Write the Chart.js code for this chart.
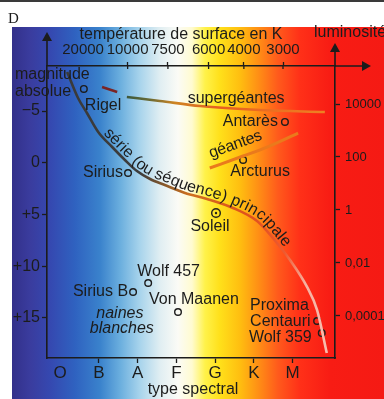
<!DOCTYPE html>
<html>
<head>
<meta charset="utf-8">
<script src="https://cdn.jsdelivr.net/npm/chart.js@4.4.1/dist/chart.umd.min.js"></script>
<style>
  html, body { margin: 0; padding: 0; background: #fff; }
  canvas { display: block; }
</style>
</head>
<body>
<canvas id="hr" width="384" height="399"></canvas>
<script>
// x = spectral class (O=0, B=1 ... M=6), y = absolute magnitude
var spectralTypes = ['O', 'B', 'A', 'F', 'G', 'K', 'M'];
var magTicks = [-5, 0, 5, 10, 15];
var lumTicks = [10000, 100, 1, 0.01, 0.0001];
var lumLabels = ['10000', '100', '1', '0,01', '0,0001'];
var tempLabels = ['20000', '10000', '7500', '6000', '4000', '3000'];
var tempAt = [0.59, 1.74, 2.78, 3.83, 4.74, 5.75];

var mainSeqX = [0.18, 0.46, 0.69, 0.98, 1.34, 1.67, 1.98, 2.32, 2.70, 3.22, 3.79, 4.46, 5.08, 5.49, 5.93, 6.37, 6.63, 6.88];
var mainSeqMag = [-8.77, -6.26, -4.81, -2.97, -1.52, -0.27, 0.80, 1.57, 2.15, 2.92, 3.50, 4.37, 5.63, 7.27, 9.40, 12.0, 14.23, 18.38];

var superDashX = [1.08, 1.47];
var superDashMag = [-7.32, -6.84];
var superX = [1.72, 2.57, 3.61, 5.16, 6.83];
var superMag = [-6.35, -5.97, -5.48, -5.10, -4.90];

var giantX = [3.86, 4.72, 5.34, 6.14];
var giantMag = [0.51, -0.65, -1.52, -2.87];

var starNames = ['Rigel', 'Antarès', 'Arcturus', 'Sirius', 'Soleil', 'Sirius B', 'Wolf 457', 'Von Maanen', 'Proxima\nCentauri', 'Wolf 359'];
var starX = [0.61, 5.80, 4.72, 1.75, 4.02, 1.88, 2.27, 3.04, 6.63, 6.75];
var starMag = [-7.13, -3.94, -0.27, 0.99, 4.86, 12.49, 11.62, 14.42, 15.29, 16.45];

// label placement, pixels from the star: dx, dy, align
var starLabelPos = [
  [1, 17, 'left'], [-7, 0, 'right'], [17, 12, 'center'], [-5, 0, 'right'], [-6, 14, 'center'],
  [-5, 0, 'right'], [-11, -11, 'left'], [-29, -12, 'left'], [-67, -15, 'left'], [-10, 5, 'right']
];

var FONT = '"Liberation Sans", Arial, sans-serif';
var INK = '#1c1c1c';

function pts(xs, ys) {
  return xs.map(function (x, i) { return {x: x, y: ys[i]}; });
}

var gradCache = {};
function hGrad(chart, key, stops) {
  if (!gradCache[key]) {
    var g = chart.ctx.createLinearGradient(0, 0, 384, 0);
    stops.forEach(function (s) { g.addColorStop(s[0] / 384, s[1]); });
    gradCache[key] = g;
  }
  return gradCache[key];
}
var msStops = [[0, '#383838'], [140, '#3c3c3c'], [165, '#8a5a2a'], [190, '#d0701e'], [250, '#e0501c'], [285, '#ee5a30'], [305, '#f6b0a0'], [384, '#fbe0d6']];
var superStops = [[0, '#7a2424'], [120, '#7a2424'], [128, '#3e5a3c'], [150, '#6a6a34'], [175, '#cf8422'], [220, '#e85e20'], [384, '#f29424']];

var sunIcon = document.createElement('canvas');
sunIcon.width = 12; sunIcon.height = 12;
(function () {
  var c = sunIcon.getContext('2d');
  c.strokeStyle = INK; c.lineWidth = 1.4;
  c.beginPath(); c.arc(6, 6, 4.3, 0, 2 * Math.PI); c.stroke();
  c.fillStyle = INK;
  c.beginPath(); c.arc(6, 6, 1.2, 0, 2 * Math.PI); c.fill();
})();

// ---- helpers for text following a curve
function sampledPath(meta) {
  var p = meta.data, out = [];
  for (var i = 0; i < p.length - 1; i++) {
    var a = p[i], b = p[i + 1];
    var c1x = a.cp2x !== undefined ? a.cp2x : a.x, c1y = a.cp2y !== undefined ? a.cp2y : a.y;
    var c2x = b.cp1x !== undefined ? b.cp1x : b.x, c2y = b.cp1y !== undefined ? b.cp1y : b.y;
    for (var k = 0; k < 24; k++) {
      var t = k / 24, m = 1 - t;
      out.push({
        x: m * m * m * a.x + 3 * m * m * t * c1x + 3 * m * t * t * c2x + t * t * t * b.x,
        y: m * m * m * a.y + 3 * m * m * t * c1y + 3 * m * t * t * c2y + t * t * t * b.y
      });
    }
  }
  var l = p[p.length - 1];
  out.push({x: l.x, y: l.y});
  out[0].s = 0;
  for (var j = 1; j < out.length; j++) {
    out[j].s = out[j - 1].s + Math.hypot(out[j].x - out[j - 1].x, out[j].y - out[j - 1].y);
  }
  return out;
}
function pos(path, s) {
  for (var i = 1; i < path.length; i++) {
    if (path[i].s >= s || i === path.length - 1) {
      var a = path[i - 1], b = path[i], f = (s - a.s) / ((b.s - a.s) || 1);
      return {x: a.x + (b.x - a.x) * f, y: a.y + (b.y - a.y) * f};
    }
  }
}
function arcAtX(path, px) {
  for (var i = 0; i < path.length; i++) if (path[i].x >= px) return path[i].s;
  return path[path.length - 1].s;
}
function textOnPath(ctx, path, text, s0, s1, off) {
  var chars = Array.from(text);
  var w = chars.map(function (ch) { return ctx.measureText(ch).width; });
  var total = w.reduce(function (a, b) { return a + b; }, 0);
  var gap = (s1 - s0 - total) / (chars.length - 1);
  var s = s0;
  ctx.textAlign = 'center';
  ctx.textBaseline = 'alphabetic';
  chars.forEach(function (ch, i) {
    var mid = s + w[i] / 2;
    var p = pos(path, mid), p1 = pos(path, mid - 4), p2 = pos(path, mid + 4);
    var ang = Math.atan2(p2.y - p1.y, p2.x - p1.x);
    ctx.save();
    ctx.translate(p.x + Math.sin(ang) * off, p.y - Math.cos(ang) * off);
    ctx.rotate(ang);
    ctx.fillText(ch, 0, 0);
    ctx.restore();
    s += w[i] + gap;
  });
}

var background = {
  id: 'background',
  beforeDraw: function (chart) {
    var ctx = chart.ctx;
    ctx.save();
    ctx.fillStyle = '#fff';
    ctx.fillRect(0, 0, 384, 399);
    ctx.fillStyle = '#3a3a3a';
    ctx.fillRect(0, 0, 384, 2);
    var g = ctx.createLinearGradient(12, 0, 384, 0);
    [[12, '#33308a'], [30, '#3a3c9e'], [50, '#3548b0'], [75, '#2f62c0'], [100, '#3a82cc'], [120, '#6aaede'],
     [140, '#a8d4ec'], [160, '#e0eef2'], [178, '#fbfbf6'], [192, '#fffbd0'], [205, '#fff24a'], [220, '#ffe01a'],
     [240, '#ffbe10'], [258, '#ff9015'], [278, '#ff5a1c'], [300, '#ff3018'], [330, '#f81c14'], [384, '#f51a14']]
      .forEach(function (s) { g.addColorStop((s[0] - 12) / 372, s[1]); });
    ctx.fillStyle = g;
    ctx.fillRect(12, 27, 372, 372);
    ctx.restore();
  }
};

function arrowHead(ctx, x, y, dir) {
  ctx.beginPath();
  if (dir === 'up') { ctx.moveTo(x, y); ctx.lineTo(x - 5, y + 9); ctx.lineTo(x + 5, y + 9); }
  else { ctx.moveTo(x, y); ctx.lineTo(x - 9, y - 5); ctx.lineTo(x - 9, y + 5); }
  ctx.closePath();
  ctx.fill();
}

var overlay = {
  id: 'overlay',
  afterDraw: function (chart) {
    var ctx = chart.ctx, a = chart.chartArea;
    var sx = chart.scales.x, sy = chart.scales.y, st = chart.scales.x2;
    ctx.save();
    ctx.strokeStyle = INK; ctx.fillStyle = INK; ctx.lineWidth = 1.6;
    // axis extensions with arrows
    ctx.beginPath();
    ctx.moveTo(a.left, a.top); ctx.lineTo(a.left, 40);
    ctx.moveTo(a.right, a.top); ctx.lineTo(a.right, 51);
    ctx.moveTo(a.right, a.top); ctx.lineTo(362, a.top);
    ctx.stroke();
    arrowHead(ctx, a.left, 32, 'up');
    arrowHead(ctx, a.right, 43, 'up');
    arrowHead(ctx, 371, a.top, 'right');
    // temperature ticks cross the top line
    ctx.lineWidth = 1.3;
    ctx.beginPath();
    tempAt.slice(1).forEach(function (t) {
      var px = st.getPixelForValue(t);
      ctx.moveTo(px, a.top); ctx.lineTo(px, a.top + 3);
    });
    ctx.stroke();

    // titles
    ctx.font = '16px ' + FONT;
    ctx.textBaseline = 'middle';
    ctx.textAlign = 'center';
    ctx.fillText('température de surface en K', 181, 35);
    ctx.fillText('type spectral', 193, 390);
    ctx.textAlign = 'left';
    ctx.fillText('luminosité', 314, 33);
    ctx.fillText('magnitude', 15, 75);
    ctx.fillText('absolue', 15, 92);
    ctx.font = '15px "Liberation Serif", serif';
    ctx.fillText('D', 8, 19);

    // star labels
    ctx.font = '16px ' + FONT;
    starNames.forEach(function (name, i) {
      var px = sx.getPixelForValue(starX[i]), py = sy.getPixelForValue(starMag[i]);
      var lp = starLabelPos[i];
      ctx.textAlign = lp[2];
      name.split('\n').forEach(function (line, k) {
        ctx.fillText(line, px + lp[0], py + lp[1] + k * 16);
      });
    });

    // region names
    ctx.textAlign = 'center';
    ctx.fillText('supergéantes', sx.getPixelForValue(4.54), sy.getPixelForValue(-6.16));
    ctx.font = 'italic 16px ' + FONT;
    ctx.fillText('naines', sx.getPixelForValue(1.54), sy.getPixelForValue(14.57));
    ctx.fillText('blanches', sx.getPixelForValue(1.59), sy.getPixelForValue(16.02));

    // text along the curves
    ctx.font = '16px ' + FONT;
    var ms = sampledPath(chart.getDatasetMeta(0));
    textOnPath(ctx, ms, 'série (ou séquence) principale',
      arcAtX(ms, sx.getPixelForValue(1.05)), arcAtX(ms, sx.getPixelForValue(5.72)), 3);
    var gi = sampledPath(chart.getDatasetMeta(3));
    textOnPath(ctx, gi, 'géantes',
      arcAtX(gi, sx.getPixelForValue(3.95)), arcAtX(gi, sx.getPixelForValue(5.31)), 9);
    ctx.restore();
  }
};

Chart.defaults.font.family = FONT;
Chart.defaults.color = INK;

new Chart(document.getElementById('hr'), {
  type: 'scatter',
  data: {
    datasets: [
      {
        data: pts(mainSeqX, mainSeqMag), showLine: true, pointRadius: 0, borderWidth: 2.6,
        cubicInterpolationMode: 'monotone',
        borderColor: function (c) { return hGrad(c.chart, 'ms', msStops); }
      },
      {
        data: pts(superDashX, superDashMag), showLine: true, pointRadius: 0, borderWidth: 2.6,
        borderColor: '#7a2424'
      },
      {
        data: pts(superX, superMag), showLine: true, pointRadius: 0, borderWidth: 2.6,
        cubicInterpolationMode: 'monotone',
        borderColor: function (c) { return hGrad(c.chart, 'sg', superStops); }
      },
      {
        data: pts(giantX, giantMag), showLine: true, pointRadius: 0, borderWidth: 3,
        cubicInterpolationMode: 'monotone', borderColor: '#ea7a1c'
      },
      {
        data: pts(starX, starMag), showLine: false,
        pointRadius: 3.3, borderWidth: 1.4, borderColor: INK, backgroundColor: 'rgba(0,0,0,0)',
        pointStyle: function (c) { return starNames[c.dataIndex] === 'Soleil' ? sunIcon : 'circle'; }
      }
    ]
  },
  options: {
    responsive: false,
    animation: false,
    devicePixelRatio: 1,
    layout: {padding: 0},
    plugins: {legend: {display: false}, tooltip: {enabled: false}},
    scales: {
      x: {
        type: 'linear', position: 'bottom', min: -0.341, max: 7.092,
        afterFit: function (s) { s.height = 41; },
        afterBuildTicks: function (s) { s.ticks = spectralTypes.map(function (t, i) { return {value: i}; }); },
        ticks: {
          autoSkip: false, maxRotation: 0, minRotation: 0, padding: 0, color: INK, font: {size: 17},
          callback: function (v, i) { return spectralTypes[i]; }
        },
        grid: {
          drawOnChartArea: false, tickLength: 5, tickWidth: 1.3,
          tickColor: function (c) { return c.index === 0 ? 'rgba(0,0,0,0)' : INK; }
        },
        border: {color: INK, width: 1.6}
      },
      x2: {
        type: 'linear', position: 'top', min: -0.341, max: 7.092,
        afterFit: function (s) { s.height = 66; },
        afterBuildTicks: function (s) { s.ticks = tempAt.map(function (t) { return {value: t}; }); },
        ticks: {
          autoSkip: false, maxRotation: 0, minRotation: 0, padding: 3, color: INK, font: {size: 15},
          callback: function (v, i) { return tempLabels[i]; }
        },
        grid: {
          drawOnChartArea: false, tickLength: 4, tickWidth: 1.3,
          tickColor: function (c) { return c.index === 0 ? 'rgba(0,0,0,0)' : INK; }
        },
        border: {color: INK, width: 1.6}
      },
      y: {
        type: 'linear', position: 'left', reverse: true, min: -9.348, max: 18.865,
        afterFit: function (s) { s.width = 47; },
        afterBuildTicks: function (s) { s.ticks = magTicks.map(function (t) { return {value: t}; }); },
        ticks: {
          padding: 2, color: INK, font: {size: 16},
          callback: function (v) { return v < 0 ? '\u2212' + (-v) : (v > 0 ? '+' + v : '0'); }
        },
        grid: {drawOnChartArea: false, tickLength: 5, tickWidth: 1.3, tickColor: INK},
        border: {color: INK, width: 1.6}
      },
      y2: {
        type: 'logarithmic', position: 'right', min: Math.pow(10, -5.585), max: Math.pow(10, 5.434),
        afterFit: function (s) { s.width = 49; },
        afterBuildTicks: function (s) { s.ticks = lumTicks.map(function (t) { return {value: t}; }); },
        ticks: {
          padding: 5, color: INK, font: {size: 13},
          callback: function (v, i) { return lumLabels[i]; }
        },
        grid: {drawOnChartArea: false, tickLength: 5, tickWidth: 1.3, tickColor: INK},
        border: {color: INK, width: 1.6}
      }
    }
  },
  plugins: [background, overlay]
});
</script>
</body>
</html>
